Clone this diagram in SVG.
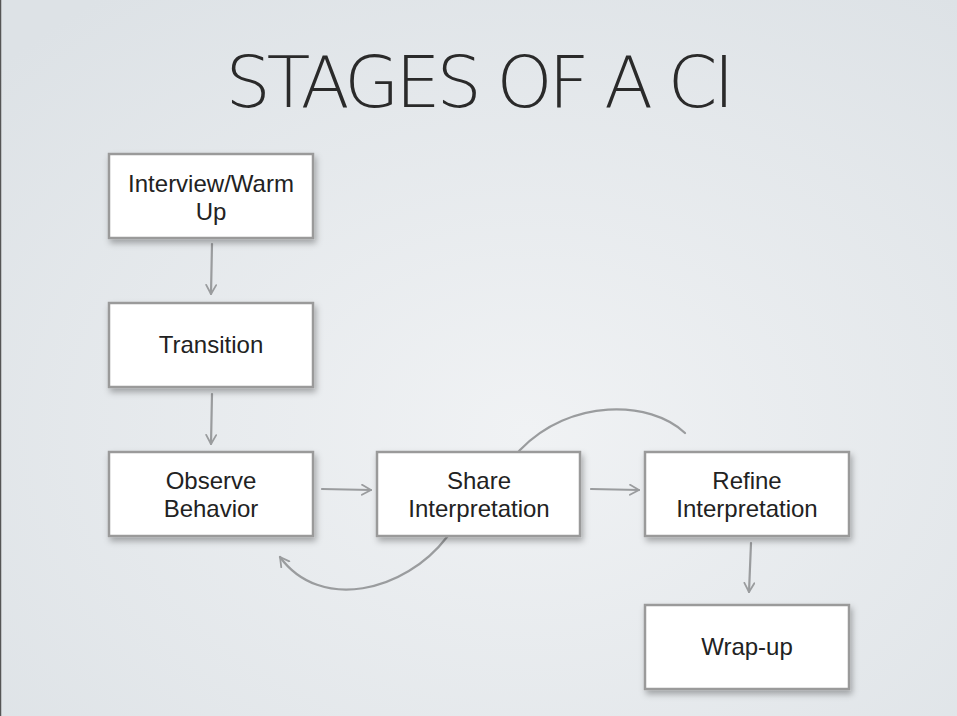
<svg xmlns="http://www.w3.org/2000/svg" width="957" height="716" viewBox="0 0 957 716">
<defs>
<radialGradient id="bg" cx="0.55" cy="0.6" r="0.75">
<stop offset="0" stop-color="#f0f2f4"/>
<stop offset="1" stop-color="#dde2e6"/>
</radialGradient>
<filter id="sh" x="-10%" y="-10%" width="130%" height="140%">
<feDropShadow dx="2" dy="4" stdDeviation="3" flood-color="#000" flood-opacity="0.3"/>
</filter>
<marker id="ah" viewBox="0 0 12 12" refX="10" refY="6" markerWidth="12" markerHeight="12" markerUnits="userSpaceOnUse" orient="auto">
<path d="M1,1 L10,6 L1,11" fill="none" stroke="#9a9c9e" stroke-width="1.8" stroke-linecap="round" stroke-linejoin="round"/>
</marker>
<style>
.box{fill:#fff;stroke:#9a9a9a;stroke-width:2.5;filter:url(#sh)}
.lbl{font-family:"Liberation Sans",Arial,sans-serif;font-size:24px;fill:#222;text-anchor:middle}
.con{fill:none;stroke:#9a9c9e;stroke-width:2.2;stroke-linecap:round}
</style>
</defs>
<rect width="957" height="716" fill="url(#bg)"/>
<line x1="0.5" y1="0" x2="0.5" y2="716" stroke="#555" stroke-width="1.5"/>
<text x="478" y="107" font-family="'DejaVu Sans',sans-serif" font-weight="200" font-size="72" fill="#2a2a2a" letter-spacing="-4" textLength="505" lengthAdjust="spacingAndGlyphs" text-anchor="middle">STAGES OF A CI</text>
<g id="connectors">
<path class="con" d="M685,433 C650,400 570,398 520,450 L447,537 C405,592 320,612 280,557" marker-end="url(#ah)"/>
<line class="con" x1="212" y1="244" x2="211" y2="294" marker-end="url(#ah)"/>
<line class="con" x1="212" y1="394" x2="211" y2="444" marker-end="url(#ah)"/>
<line class="con" x1="322" y1="489" x2="371" y2="490" marker-end="url(#ah)"/>
<line class="con" x1="591" y1="489" x2="639" y2="490" marker-end="url(#ah)"/>
<line class="con" x1="751" y1="543" x2="749" y2="592" marker-end="url(#ah)"/>
</g>
<g id="n1"><rect class="box" x="109" y="154" width="204" height="84"/><text class="lbl" x="211" y="192">Interview/Warm</text><text class="lbl" x="211" y="220">Up</text></g>
<g id="n2"><rect class="box" x="109" y="303" width="204" height="84"/><text class="lbl" x="211" y="353">Transition</text></g>
<g id="n3"><rect class="box" x="109" y="452" width="204" height="84"/><text class="lbl" x="211" y="489">Observe</text><text class="lbl" x="211" y="517">Behavior</text></g>
<g id="n4"><rect class="box" x="377" y="452" width="203" height="84"/><text class="lbl" x="479" y="489">Share</text><text class="lbl" x="479" y="517">Interpretation</text></g>
<g id="n5"><rect class="box" x="645" y="452" width="204" height="84"/><text class="lbl" x="747" y="489">Refine</text><text class="lbl" x="747" y="517">Interpretation</text></g>
<g id="n6"><rect class="box" x="645" y="605" width="204" height="84"/><text class="lbl" x="747" y="655">Wrap-up</text></g>
</svg>
